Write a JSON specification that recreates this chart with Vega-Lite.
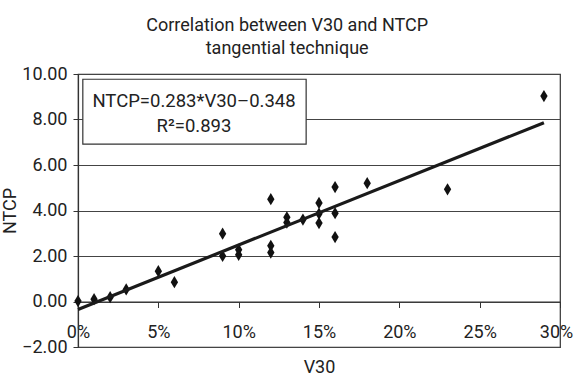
{
  "$schema": "https://vega.github.io/schema/vega-lite/v6.json",
  "width": 482,
  "height": 273,
  "autosize": "none",
  "padding": {"left": 78, "top": 74, "right": 14, "bottom": 33},
  "background": "white",
  "config": {
    "font": "Roboto",
    "view": {"stroke": "#333333", "strokeWidth": 1.2},
    "axis": {
      "labelFont": "Roboto",
      "titleFont": "Roboto",
      "labelColor": "#222222",
      "titleColor": "#222222",
      "labelFontSize": 18,
      "titleFontSize": 18,
      "titleFontWeight": "normal",
      "domainColor": "#333333",
      "tickColor": "#333333",
      "gridColor": "#444444",
      "gridOpacity": 1
    }
  },
  "title": {
    "text": ["Correlation between V30 and NTCP", "tangential technique"],
    "font": "Roboto",
    "fontSize": 18,
    "fontWeight": "normal",
    "color": "#222222",
    "anchor": "middle",
    "frame": "bounds",
    "lineHeight": 23,
    "offset": 7
  },
  "datasets": {
    "points": [
      {"V30": 0.00, "NTCP": 0.02},
      {"V30": 0.01, "NTCP": 0.10},
      {"V30": 0.02, "NTCP": 0.19},
      {"V30": 0.03, "NTCP": 0.53},
      {"V30": 0.05, "NTCP": 1.33},
      {"V30": 0.06, "NTCP": 0.85},
      {"V30": 0.09, "NTCP": 2.98},
      {"V30": 0.09, "NTCP": 2.00},
      {"V30": 0.10, "NTCP": 2.05},
      {"V30": 0.10, "NTCP": 2.28},
      {"V30": 0.12, "NTCP": 4.50},
      {"V30": 0.12, "NTCP": 2.45},
      {"V30": 0.12, "NTCP": 2.15},
      {"V30": 0.13, "NTCP": 3.47},
      {"V30": 0.13, "NTCP": 3.70},
      {"V30": 0.14, "NTCP": 3.60},
      {"V30": 0.15, "NTCP": 4.33},
      {"V30": 0.15, "NTCP": 3.86},
      {"V30": 0.15, "NTCP": 3.45},
      {"V30": 0.16, "NTCP": 5.03},
      {"V30": 0.16, "NTCP": 3.88},
      {"V30": 0.16, "NTCP": 2.83},
      {"V30": 0.18, "NTCP": 5.20},
      {"V30": 0.23, "NTCP": 4.93},
      {"V30": 0.29, "NTCP": 9.03}
    ],
    "trend": [
      {"V30": 0.00, "NTCP": -0.348},
      {"V30": 0.29, "NTCP": 7.859}
    ],
    "note": [
      {"v30_start": 0.003, "v30_end": 0.142, "ntcp_top": 9.77, "ntcp_bottom": 6.92, "v30_mid": 0.0722, "ntcp_text": 8.56, "label": ["NTCP=0.283*V30–0.348", "R²=0.893"]}
    ]
  },
  "layer": [
    {
      "data": {"name": "points"},
      "mark": {
        "type": "point",
        "shape": "M0,-1L0.6,0L0,1L-0.6,0Z",
        "size": 150,
        "filled": true,
        "fill": "#111111",
        "strokeWidth": 0,
        "opacity": 1,
        "clip": false
      },
      "encoding": {
        "x": {
          "field": "V30",
          "type": "quantitative",
          "scale": {"domain": [0, 0.3], "nice": false, "zero": false},
          "axis": {
            "title": "V30",
            "format": ".0%",
            "values": [0, 0.05, 0.1, 0.15, 0.2, 0.25, 0.3],
            "offset": -45.5,
            "grid": false,
            "tickSize": 6,
            "labelPadding": 16,
            "labelOffset": {"condition": {"test": "datum.value >= 0.29", "value": -4}, "value": 0},
            "titlePadding": 17,
            "labelFlush": false,
            "labelOverlap": false,
            "domainWidth": 1.2
          }
        },
        "y": {
          "field": "NTCP",
          "type": "quantitative",
          "scale": {"domain": [-2, 10], "nice": false, "zero": false},
          "axis": {
            "title": "NTCP",
            "format": ".2f",
            "values": [-2, 0, 2, 4, 6, 8, 10],
            "grid": true,
            "tickSize": 5,
            "labelPadding": 6,
            "titlePadding": 2,
            "labelFlush": false,
            "labelOverlap": false,
            "domainWidth": 1.2
          }
        }
      }
    },
    {
      "data": {"name": "trend"},
      "mark": {"type": "line", "color": "#1a1a1a", "strokeWidth": 3.2, "clip": false},
      "encoding": {
        "x": {"field": "V30", "type": "quantitative"},
        "y": {"field": "NTCP", "type": "quantitative"}
      }
    },
    {
      "data": {"name": "note"},
      "mark": {"type": "rect", "fill": "white", "stroke": "#333333", "strokeWidth": 1.2},
      "encoding": {
        "x": {"field": "v30_start", "type": "quantitative"},
        "x2": {"field": "v30_end"},
        "y": {"field": "ntcp_top", "type": "quantitative"},
        "y2": {"field": "ntcp_bottom"}
      }
    },
    {
      "data": {"name": "note"},
      "mark": {
        "type": "text",
        "align": "center",
        "baseline": "alphabetic",
        "fontSize": 18.5,
        "lineHeight": 25,
        "color": "#222222",
        "font": "Roboto"
      },
      "encoding": {
        "x": {"field": "v30_mid", "type": "quantitative"},
        "y": {"field": "ntcp_text", "type": "quantitative"},
        "text": {"field": "label"}
      }
    }
  ]
}
